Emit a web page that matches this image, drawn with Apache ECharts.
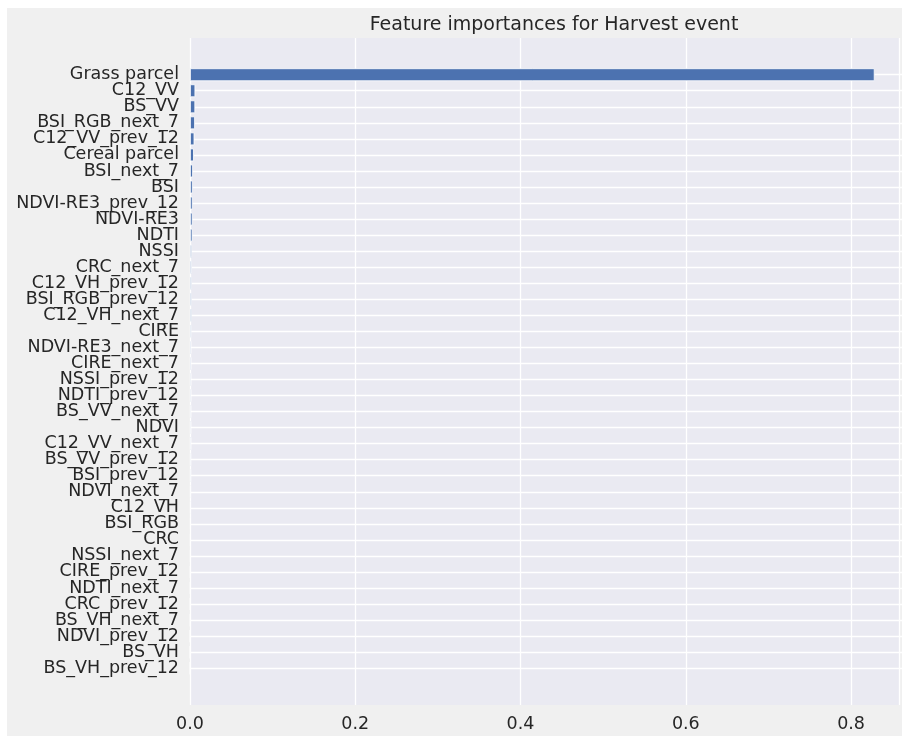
<!DOCTYPE html>
<html>
<head>
<meta charset="utf-8">
<script src="https://cdn.jsdelivr.net/npm/echarts@6/dist/echarts.min.js"></script>
<style>
html,body{margin:0;padding:0;background:#ffffff;}
#chart{width:902px;height:736px;}
</style>
</head>
<body>
<div id="chart"></div>
<script>
var categories = ["Grass parcel","C12_VV","BS_VV","BSI_RGB_next_7","C12_VV_prev_12","Cereal parcel","BSI_next_7","BSI","NDVI-RE3_prev_12","NDVI-RE3","NDTI","NSSI","CRC_next_7","C12_VH_prev_12","BSI_RGB_prev_12","C12_VH_next_7","CIRE","NDVI-RE3_next_7","CIRE_next_7","NSSI_prev_12","NDTI_prev_12","BS_VV_next_7","NDVI","C12_VV_next_7","BS_VV_prev_12","BSI_prev_12","NDVI_next_7","C12_VH","BSI_RGB","CRC","NSSI_next_7","CIRE_prev_12","NDTI_next_7","CRC_prev_12","BS_VH_next_7","NDVI_prev_12","BS_VH","BS_VH_prev_12"];
var importances = [0.825,0.0064,0.0063,0.0060,0.0053,0.0047,0.0036,0.0033,0.0032,0.0031,0.0030,0.0024,0.0023,0.0022,0.0022,0.0021,0.0018,0.0017,0.0017,0.0016,0.0016,0.0015,0.0015,0.0015,0.0014,0.0014,0.0012,0.0011,0.0010,0.0009,0.0008,0.0007,0.0006,0.0005,0.0004,0.0003,0.0002,0.0002];
var xTicks = [0, 0.2, 0.4, 0.6, 0.8];
var xMax = 0.858;

var chart = echarts.init(document.getElementById('chart'), null, {renderer:'canvas'});
var font = 'DejaVu Sans';
var txt = '#262626';
var option = {
  animation: false,
  backgroundColor: '#ffffff',
  graphic: [{
    type: 'rect', z: -100, silent: true,
    shape: {x: 7, y: 8, width: 895, height: 728},
    style: {fill: '#f0f0f0'}
  }],
  title: {
    text: 'Feature importances for Harvest event',
    left: 549, top: 11, textAlign: 'center',
    textStyle: {fontFamily: font, fontSize: 19, fontWeight: 'normal', color: txt}
  },
  grid: [
    {left: 190, right: 0, top: 38, bottom: 31, show: true, backgroundColor: '#eaeaf2', borderWidth: 0, containLabel: false},
    {left: 190, right: 0, top: 74.7, bottom: 736 - 668.2, containLabel: false},
    {left: 190, right: 0, top: 66.7, bottom: 736 - 676.2, containLabel: false}
  ],
  xAxis: [
    {gridIndex: 0, type: 'value', min: 0, max: xMax, interval: 0.2,
     axisLine: {show: false}, axisTick: {show: false},
     splitLine: {show: true, lineStyle: {color: '#ffffff', width: 1.3}},
     axisLabel: {fontFamily: font, fontSize: 17.5, color: txt, margin: 10,
       formatter: function(v){ return xTicks.indexOf(Math.round(v*10)/10) >= 0 ? v.toFixed(1) : ''; }}},
    {gridIndex: 1, type: 'value', min: 0, max: xMax, show: false},
    {gridIndex: 2, type: 'value', min: 0, max: xMax, show: false}
  ],
  yAxis: [
    {gridIndex: 0, type: 'value', min: 0, max: 1, show: false},
    {gridIndex: 1, type: 'value', min: 0, max: categories.length - 1, interval: 1, inverse: true,
     axisLine: {show: false}, axisTick: {show: false}, axisLabel: {show: false},
     splitLine: {show: true, lineStyle: {color: '#ffffff', width: 1.3}}},
    {gridIndex: 2, type: 'category', data: categories, inverse: true,
     axisLine: {show: false}, axisTick: {show: false}, splitLine: {show: false},
     axisLabel: {fontFamily: font, fontSize: 17.5, color: txt, margin: 11, interval: 0}}
  ],
  series: [{
    type: 'bar', xAxisIndex: 2, yAxisIndex: 2,
    data: importances,
    barCategoryGap: '20%',
    itemStyle: {color: '#4c72b0', borderColor: '#ffffff', borderWidth: 0.8},
    z: 5
  }]
};
chart.setOption(option);
</script>
</body>
</html>
